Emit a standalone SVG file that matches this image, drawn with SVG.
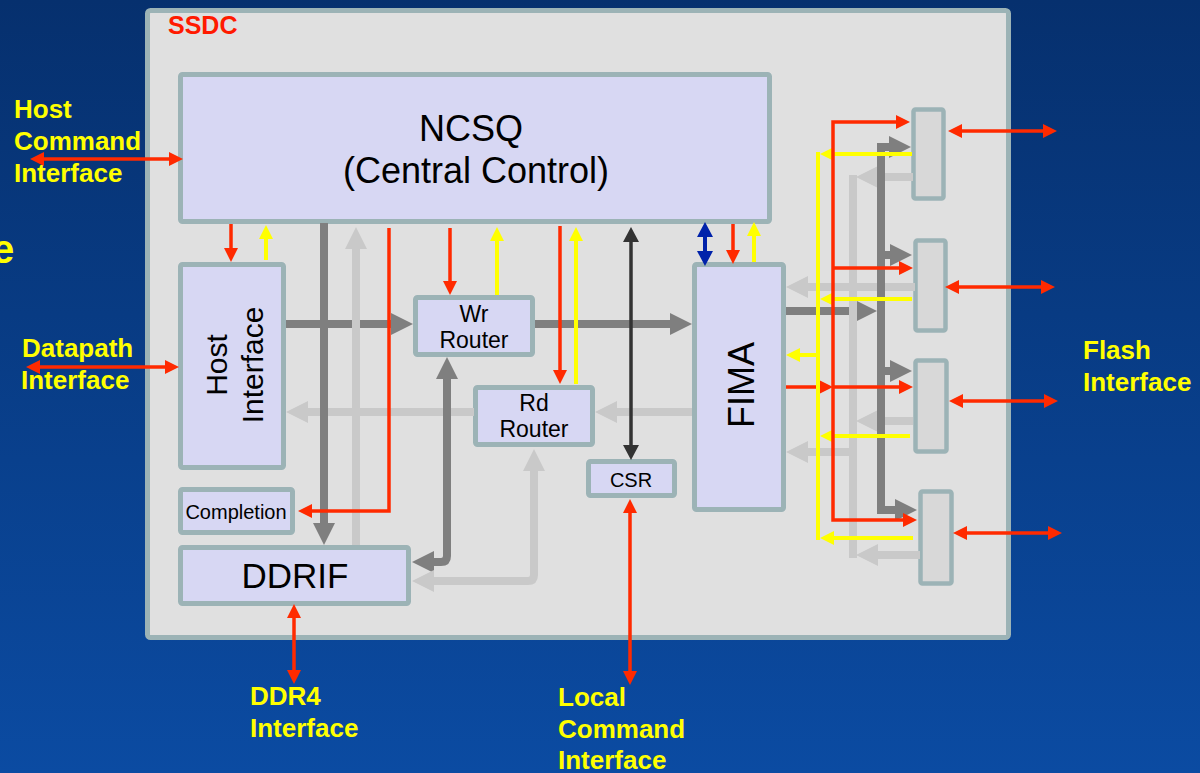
<svg xmlns="http://www.w3.org/2000/svg" width="1200" height="773" viewBox="0 0 1200 773">
<defs>
<linearGradient id="bg" x1="0" y1="0" x2="0" y2="1">
<stop offset="0" stop-color="#06306e"/>
<stop offset="1" stop-color="#0b4ba2"/>
</linearGradient>
<marker id="aR" viewBox="0 0 14 14" refX="10" refY="7" markerWidth="14" markerHeight="14" markerUnits="userSpaceOnUse" orient="auto-start-reverse"><path d="M0,0L14,7L0,14z" fill="#ff2a00"/></marker>
<marker id="aY" viewBox="0 0 14 14" refX="10" refY="7" markerWidth="14" markerHeight="14" markerUnits="userSpaceOnUse" orient="auto-start-reverse"><path d="M0,0L14,7L0,14z" fill="#ffff00"/></marker>
<marker id="aK" viewBox="0 0 15 16" refX="11" refY="8" markerWidth="15" markerHeight="16" markerUnits="userSpaceOnUse" orient="auto-start-reverse"><path d="M0,0L15,8L0,16z" fill="#333333"/></marker>
<marker id="aB" viewBox="0 0 15 16" refX="11" refY="8" markerWidth="15" markerHeight="16" markerUnits="userSpaceOnUse" orient="auto-start-reverse"><path d="M0,0L15,8L0,16z" fill="#0022aa"/></marker>
<marker id="aD" viewBox="0 0 22 22" refX="12" refY="11" markerWidth="22" markerHeight="22" markerUnits="userSpaceOnUse" orient="auto-start-reverse"><path d="M0,0L22,11L0,22z" fill="#7f7f7f"/></marker>
<marker id="aL" viewBox="0 0 22 22" refX="12" refY="11" markerWidth="22" markerHeight="22" markerUnits="userSpaceOnUse" orient="auto-start-reverse"><path d="M0,0L22,11L0,22z" fill="#c9c9c9"/></marker>
</defs>
<style>
.box{fill:#d7d7f3;stroke:#9cb3b6;stroke-width:5}
.mod{fill:#d8d8d8;stroke:#9cb3b6;stroke-width:4.5}
.t{font-family:"Liberation Sans",Arial,sans-serif;fill:#000}
.lab{font-family:"Liberation Sans",Arial,sans-serif;font-weight:bold;font-size:26px;fill:#ffff00}
.r{stroke:#ff2a00;stroke-width:3.5;fill:none}
.y{stroke:#ffff00;stroke-width:4;fill:none}
.d{stroke:#7f7f7f;stroke-width:8;fill:none}
.l{stroke:#c9c9c9;stroke-width:8;fill:none}
.k{stroke:#333333;stroke-width:3.5;fill:none}
.b{stroke:#0022aa;stroke-width:4;fill:none}
.er{marker-end:url(#aR)}
.br{marker-start:url(#aR);marker-end:url(#aR)}
.ey{marker-end:url(#aY)}
.ed{marker-end:url(#aD)}
.el{marker-end:url(#aL)}
</style>
<rect x="0" y="0" width="1200" height="773" fill="url(#bg)"/>

<g id="ssdc">
<rect x="147.5" y="10.5" width="861" height="627" rx="3" fill="#e0e0e0" stroke="#9cb3b6" stroke-width="5"/>
<text x="168" y="34" font-family="Liberation Sans,Arial,sans-serif" font-weight="bold" font-size="25" fill="#ff1a00">SSDC</text>
</g>

<g id="ncsq">
<rect class="box" x="180.5" y="74.5" width="589" height="147" rx="2"/>
<text class="t" font-size="36" x="471" y="141" text-anchor="middle">NCSQ</text>
<text class="t" font-size="36" x="476" y="183" text-anchor="middle">(Central Control)</text>
</g>

<g id="host-interface">
<rect class="box" x="180.5" y="264.5" width="103" height="203" rx="2"/>
<text class="t" font-size="30" text-anchor="middle" transform="translate(227,365) rotate(-90)">Host</text>
<text class="t" font-size="30" text-anchor="middle" transform="translate(263,365) rotate(-90)">Interface</text>
</g>

<g id="wr-router">
<rect class="box" x="415.5" y="297.5" width="117" height="57" rx="2"/>
<text class="t" font-size="23" x="474" y="322" text-anchor="middle">Wr</text>
<text class="t" font-size="23" x="474" y="348" text-anchor="middle">Router</text>
</g>

<g id="rd-router">
<rect class="box" x="475.5" y="387.5" width="117" height="57" rx="2"/>
<text class="t" font-size="23" x="534" y="411" text-anchor="middle">Rd</text>
<text class="t" font-size="23" x="534" y="437" text-anchor="middle">Router</text>
</g>

<g id="csr">
<rect class="box" x="588.5" y="461.5" width="86" height="34" rx="2"/>
<text class="t" font-size="20" x="631" y="487" text-anchor="middle">CSR</text>
</g>

<g id="fima">
<rect class="box" x="694.5" y="264.5" width="89" height="245" rx="2"/>
<text class="t" font-size="36" text-anchor="middle" transform="translate(754,385) rotate(-90)">FIMA</text>
</g>

<g id="completion">
<rect class="box" x="180.5" y="489.5" width="112" height="43" rx="2"/>
<text class="t" font-size="20" x="236" y="519" text-anchor="middle">Completion</text>
</g>

<g id="ddrif">
<rect class="box" x="180.5" y="547.5" width="228" height="56" rx="2"/>
<text class="t" font-size="35" x="295" y="588" text-anchor="middle">DDRIF</text>
</g>

<g id="flash1"><rect class="mod" x="913.5" y="109.5" width="30" height="89" rx="2"/></g>
<g id="flash2"><rect class="mod" x="915.5" y="240.5" width="30" height="90" rx="2"/></g>
<g id="flash3"><rect class="mod" x="915.5" y="360.5" width="31" height="91" rx="2"/></g>
<g id="flash4"><rect class="mod" x="920.5" y="491.5" width="31" height="92" rx="2"/></g>

<g id="connectors">
<!-- main dark gray datapath -->
<path class="d" d="M286,324H403" marker-end="url(#aD)"/>
<path class="d" d="M535,324H682" marker-end="url(#aD)"/>
<path class="l" d="M692,412H605" marker-end="url(#aL)"/>
<path class="l" d="M474,412H296" marker-end="url(#aL)"/>
<path class="l" d="M356,545V237" marker-end="url(#aL)"/>
<path class="d" d="M324,223V535" marker-end="url(#aD)"/>
<path class="d" d="M422,562H441Q447,562 447,556V367" marker-start="url(#aD)" marker-end="url(#aD)"/>
<path class="l" d="M534,459V575Q534,581 528,581H422" marker-start="url(#aL)" marker-end="url(#aL)"/>

<!-- control lines from NCSQ -->
<path class="r er" d="M231,224V258"/>
<path class="y ey" d="M266,260V229"/>
<path class="r er" d="M389,228V511H302"/>
<path class="r er" d="M450,228V291"/>
<path class="y ey" d="M497,295V231"/>
<path class="r er" d="M560,226V380"/>
<path class="y ey" d="M576,384V231"/>
<path class="k" d="M631,231V456" marker-start="url(#aK)" marker-end="url(#aK)"/>
<path class="b" d="M705,226V262" marker-start="url(#aB)" marker-end="url(#aB)"/>
<path class="r er" d="M733,224V260"/>
<path class="y ey" d="M754,262V226"/>

<!-- flash side -->
<path class="d" d="M786,311H867" marker-end="url(#aD)"/>
<path class="l" d="M853,175V558"/>
<path class="l el" d="M913,177H866"/>
<path class="l el" d="M915,287H796"/>
<path class="l el" d="M913,421H866"/>
<path class="l el" d="M920,555H866"/>
<path class="l el" d="M853,452H796"/>
<path class="d" d="M881,143V510H907" marker-end="url(#aD)"/>
<path class="d ed" d="M881,147H901"/>
<path class="d ed" d="M881,255H902"/>
<path class="d ed" d="M881,371H902"/>
<path class="r er" d="M786,387H829"/>
<path class="y" d="M818,152V540"/>
<path class="y ey" d="M912,154H824"/>
<path class="y ey" d="M912,299H824"/>
<path class="y ey" d="M910,436H824"/>
<path class="y ey" d="M913,538H824"/>
<path class="y ey" d="M818,355H790"/>
<path class="r" d="M906,122H833V520H913" marker-start="url(#aR)" marker-end="url(#aR)"/>
<path class="r er" d="M833,268H909"/>
<path class="r er" d="M833,387H909"/>

<!-- external interfaces -->
<path class="r br" d="M34,159H179"/>
<path class="r br" d="M30,367H175"/>
<path class="r br" d="M294,608V680"/>
<path class="r br" d="M630,503V681"/>
<path class="r br" d="M952,131H1053"/>
<path class="r br" d="M949,287H1051"/>
<path class="r br" d="M953,401H1054"/>
<path class="r br" d="M957,533H1058"/>
</g>

<g id="labels">
<text class="lab" x="14" y="118">Host</text>
<text class="lab" x="14" y="150">Command</text>
<text class="lab" x="14" y="182">Interface</text>
<text class="lab" font-size="40" style="font-size:40px" x="-8" y="263">e</text>
<text class="lab" x="22" y="357">Datapath</text>
<text class="lab" x="21" y="389">Interface</text>
<text class="lab" x="250" y="705">DDR4</text>
<text class="lab" x="250" y="737">Interface</text>
<text class="lab" x="558" y="706">Local</text>
<text class="lab" x="558" y="738">Command</text>
<text class="lab" x="558" y="769">Interface</text>
<text class="lab" x="1083" y="359">Flash</text>
<text class="lab" x="1083" y="391">Interface</text>
</g>
</svg>
